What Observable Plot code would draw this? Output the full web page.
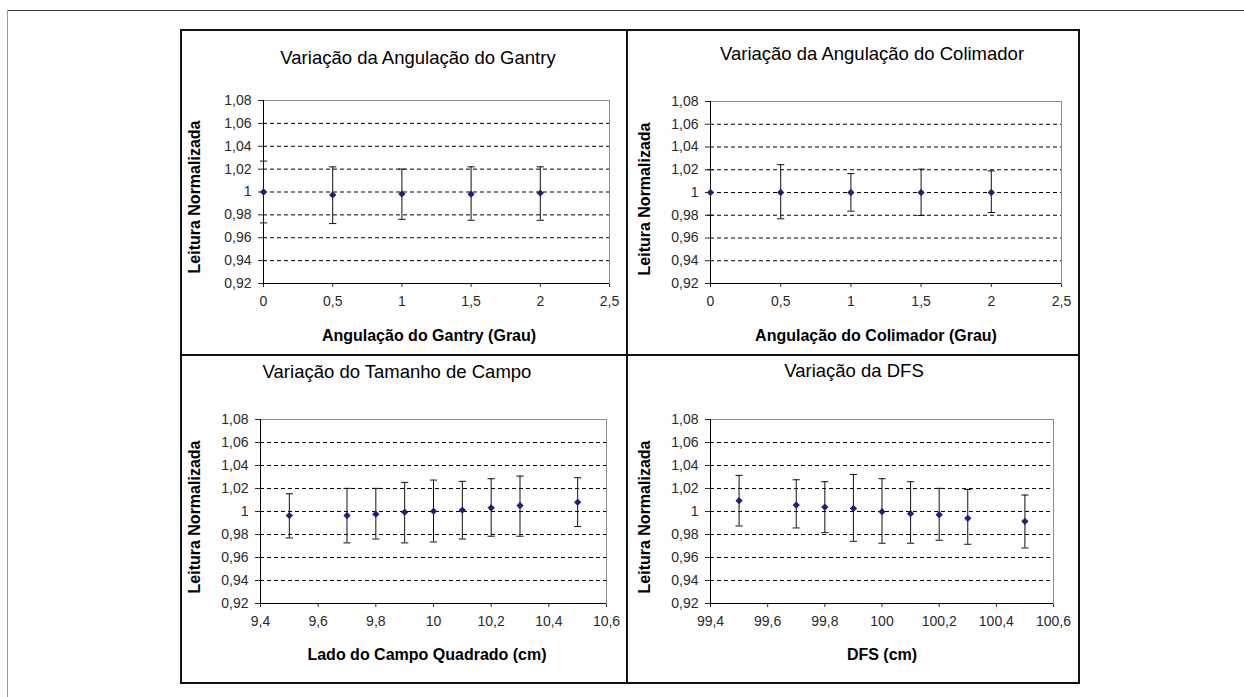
<!DOCTYPE html>
<html>
<head>
<meta charset="utf-8">
<script src="https://cdn.jsdelivr.net/npm/d3@7"></script>
<script src="https://cdn.jsdelivr.net/npm/@observablehq/plot@0.6"></script>
<style>
  body { margin: 0; background: #fff; font-family: "Liberation Sans", Arial, sans-serif; }
  #page { position: relative; width: 1244px; height: 697px; overflow: hidden; background: #fff; }
  .line { position: absolute; }
  .title { position: absolute; font-size: 18.5px; color: #000; white-space: nowrap; transform: translate(-50%, -50%); }
  .xlab { position: absolute; font-size: 16px; font-weight: bold; color: #000; white-space: nowrap; transform: translate(-50%, -50%); }
  .ylab { position: absolute; font-size: 16px; font-weight: bold; color: #000; white-space: nowrap; transform: translate(-50%, -50%) rotate(-90deg); }
  .chart { position: absolute; }
</style>
</head>
<body>
<div id="page"></div>
<script>
// ---------- data ----------
const yTicks = [0.92, 0.94, 0.96, 0.98, 1.00, 1.02, 1.04, 1.06, 1.08];
const gridTicks = [0.94, 0.96, 0.98, 1.00, 1.02, 1.04, 1.06];
const yDomain = [0.92, 1.08];

const gantryX  = [0, 0.5, 1, 1.5, 2];
const gantryY  = [1.000, 0.9974, 0.9983, 0.9981, 0.9991];
const gantryHi = [1.027, 1.022, 1.020, 1.022, 1.022];
const gantryLo = [0.973, 0.9724, 0.9761, 0.9753, 0.9753];
const gantryTicks = [0, 0.5, 1, 1.5, 2, 2.5];

const colX  = [0, 0.5, 1, 1.5, 2];
const colY  = [1.000, 1.000, 1.000, 1.000, 1.000];
const colHi = [1.020, 1.0245, 1.0166, 1.0205, 1.019];
const colLo = [0.980, 0.9769, 0.9836, 0.9798, 0.9824];
const colTicks = [0, 0.5, 1, 1.5, 2, 2.5];

const campoX  = [9.5, 9.7, 9.8, 9.9, 10.0, 10.1, 10.2, 10.3, 10.5];
const campoY  = [0.9965, 0.9965, 0.9977, 0.9994, 1.0003, 1.0012, 1.0032, 1.0052, 1.0081];
const campoHi = [1.0154, 1.0201, 1.0201, 1.0253, 1.0273, 1.0262, 1.0285, 1.0308, 1.0294];
const campoLo = [0.977, 0.9727, 0.9761, 0.9727, 0.9735, 0.9761, 0.9785, 0.9785, 0.9869];
const campoTicks = [9.4, 9.6, 9.8, 10.0, 10.2, 10.4, 10.6];

const dfsX  = [99.5, 99.7, 99.8, 99.9, 100.0, 100.1, 100.2, 100.3, 100.5];
const dfsY  = [1.0094, 1.0056, 1.0039, 1.0027, 0.9998, 0.9981, 0.9972, 0.9941, 0.9915];
const dfsHi = [1.0314, 1.0276, 1.0259, 1.0322, 1.0285, 1.0259, 1.0201, 1.0192, 1.0143];
const dfsLo = [0.9874, 0.9857, 0.9816, 0.9741, 0.9724, 0.9724, 0.975, 0.9715, 0.9683];
const dfsTicks = [99.4, 99.6, 99.8, 100.0, 100.2, 100.4, 100.6];

const titles = ["Variação da Angulação do Gantry", "Variação da Angulação do Colimador", "Variação do Tamanho de Campo", "Variação da DFS"];
const xLabels = ["Angulação do Gantry (Grau)", "Angulação do Colimador (Grau)", "Lado do Campo Quadrado (cm)", "DFS (cm)"];
const yLabel = "Leitura Normalizada";

// ---------- helpers ----------
const page = document.getElementById("page");
const fmt = d => String(+(+d).toFixed(2)).replace(".", ",");
const cap = { draw(ctx, size) { const r = Math.sqrt(size / Math.PI); ctx.moveTo(-r, 0); ctx.lineTo(r, 0); } };

function addDiv(cls, style, text) {
  const d = document.createElement("div");
  d.className = cls;
  Object.assign(d.style, style);
  if (text != null) d.textContent = text;
  page.appendChild(d);
  return d;
}

// page frame lines
addDiv("line", {left: "7px", top: "10px", width: "1237px", height: "1px", background: "#333"});
addDiv("line", {left: "7px", top: "10px", width: "1px", height: "687px", background: "#999"});
// panel grid
addDiv("line", {left: "180px", top: "29px", width: "900px", height: "655px", border: "2px solid #111", boxSizing: "border-box"});
addDiv("line", {left: "626px", top: "29px", width: "2px", height: "655px", background: "#111"});
addDiv("line", {left: "180px", top: "354px", width: "900px", height: "2px", background: "#111"});

const panels = [
  {xs: gantryX, ys: gantryY, hi: gantryHi, lo: gantryLo, ticks: gantryTicks,
   box: {left: 182, top: 31, width: 444, height: 323, ml: 81, mr: 17, mt: 69, mb: 71},
   title: [418, 58], xl: [429, 336], yl: [195, 197]},
  {xs: colX, ys: colY, hi: colHi, lo: colLo, ticks: colTicks,
   box: {left: 628, top: 31, width: 450, height: 323, ml: 82, mr: 17, mt: 70, mb: 71},
   title: [872, 54], xl: [876, 336], yl: [645, 199]},
  {xs: campoX, ys: campoY, hi: campoHi, lo: campoLo, ticks: campoTicks,
   box: {left: 182, top: 356, width: 444, height: 326, ml: 78, mr: 20, mt: 63, mb: 79},
   title: [397, 372], xl: [427, 655], yl: [195, 517]},
  {xs: dfsX, ys: dfsY, hi: dfsHi, lo: dfsLo, ticks: dfsTicks,
   box: {left: 628, top: 356, width: 450, height: 326, ml: 82, mr: 25, mt: 63, mb: 79},
   title: [854, 371], xl: [882, 655], yl: [645, 517]}
];

panels.forEach((p, i) => {
  const data = p.xs.map((x, j) => ({x, y: p.ys[j], hi: p.hi[j], lo: p.lo[j]}));
  const xDomain = [p.ticks[0], p.ticks[p.ticks.length - 1]];
  const b = p.box;
  const chart = Plot.plot({
    width: b.width, height: b.height,
    marginLeft: b.ml, marginRight: b.mr, marginTop: b.mt, marginBottom: b.mb,
    style: {fontFamily: "'Liberation Sans', Arial, sans-serif", fontSize: "14px", color: "#2a2a2a", background: "transparent", overflow: "visible"},
    x: {domain: xDomain, ticks: p.ticks, tickFormat: fmt, tickSize: 4, tickPadding: 9, label: null},
    y: {domain: yDomain, ticks: yTicks, tickFormat: fmt, tickSize: 5, tickPadding: 7, label: null},
    marks: [
      Plot.gridY(gridTicks, {stroke: "#000", strokeOpacity: 1, strokeDasharray: "4,3"}),
      Plot.frame({stroke: "#8c8c8c"}),
      Plot.ruleY([yDomain[0]], {stroke: "#000"}),
      Plot.ruleX([xDomain[0]], {stroke: "#000"}),
      Plot.ruleX(data, {x: "x", y1: "lo", y2: "hi", stroke: "#111", strokeWidth: 1}),
      Plot.dot(data, {x: "x", y: "lo", symbol: cap, r: 3.6, stroke: "#111", fill: "none", strokeWidth: 1}),
      Plot.dot(data, {x: "x", y: "hi", symbol: cap, r: 3.6, stroke: "#111", fill: "none", strokeWidth: 1}),
      Plot.dot(data, {x: "x", y: "y", symbol: "square", rotate: 45, r: 2.9, fill: "#1f1f80", stroke: "none"})
    ]
  });
  chart.classList.add("chart");
  chart.style.left = b.left + "px";
  chart.style.top = b.top + "px";
  page.appendChild(chart);

  addDiv("title", {left: p.title[0] + "px", top: p.title[1] + "px"}, titles[i]);
  addDiv("xlab", {left: p.xl[0] + "px", top: p.xl[1] + "px"}, xLabels[i]);
  addDiv("ylab", {left: p.yl[0] + "px", top: p.yl[1] + "px"}, yLabel);
});
</script>
</body>
</html>
